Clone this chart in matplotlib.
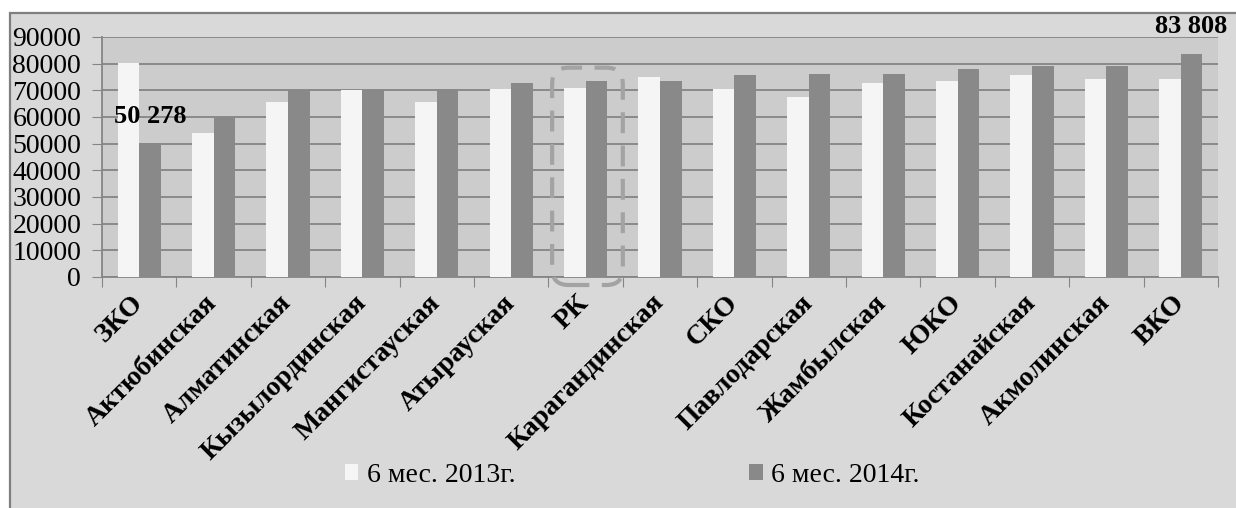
import numpy as np
import matplotlib
matplotlib.use("Agg")
import matplotlib.pyplot as plt
from matplotlib.patches import Rectangle, FancyBboxPatch, Patch

plt.rcParams['font.family'] = ['Liberation Serif', 'DejaVu Serif']

# регионы и значения
regions = ['ЗКО', 'Актюбинская', 'Алматинская', 'Кызылординская', 'Мангистауская',
           'Атырауская', 'РК', 'Карагандинская', 'СКО', 'Павлодарская',
           'Жамбылская', 'ЮКО', 'Костанайская', 'Акмолинская', 'ВКО']
val_2013 = [80100, 54100, 65500, 70000, 65500, 70400, 70900, 74900, 70400, 67500,
            72900, 73400, 75800, 74400, 74400]
val_2014 = [50278, 60000, 70000, 70000, 70400, 72900, 73400, 73400, 75800, 76200,
            76300, 77900, 79200, 79200, 83808]
series_names = ['6 мес. 2013г.', '6 мес. 2014г.']
labelled = {0: '50 278', 14: '83 808'}   # подписи над столбцами 2014
highlight = 'РК'

c_fig = '#d9d9d9'
c_plot = '#cccccc'
c_light = '#f5f5f5'
c_dark = '#898989'
c_grid = '#858585'

fig = plt.figure(figsize=(12.36, 5.08), dpi=100, facecolor='white')
fig.patches.append(Rectangle((10 / 1236, -0.01), 1.01, 1 - 13 / 508 + 0.01,
                             transform=fig.transFigure, facecolor=c_fig,
                             edgecolor='#7f7f7f', linewidth=1.6, zorder=-10))

ax = fig.add_axes([102 / 1236, 1 - 277 / 508, (1218 - 102) / 1236, 240 / 508])
ax.set_facecolor(c_plot)

n = len(regions)
x = np.arange(n) + 0.5
w = 0.29
ax.bar(x - w / 2, val_2013, w, color=c_light, zorder=3, label=series_names[0])
ax.bar(x + w / 2, val_2014, w, color=c_dark, zorder=3, label=series_names[1])

ax.set_xlim(0, n)
ax.set_ylim(0, 90000)
ax.set_yticks(np.arange(0, 90001, 10000))
ax.yaxis.grid(True, color=c_grid, linewidth=1.3, zorder=1)
ax.tick_params(axis='y', length=7, color=c_grid, labelsize=20, pad=8)

ax.set_xticks(np.arange(n + 1))
ax.set_xticklabels([])
ax.tick_params(axis='x', which='major', length=7, color=c_grid)
ax.set_xticks(x, minor=True)
ax.set_xticklabels(regions, minor=True, rotation=45, ha='right', va='center',
                   rotation_mode='anchor', fontsize=20, fontweight='bold')
ax.tick_params(axis='x', which='minor', length=0, pad=16)

for s in ['top', 'right']:
    ax.spines[s].set_visible(False)
for s in ['left', 'bottom']:
    ax.spines[s].set_color(c_grid)
    ax.spines[s].set_linewidth(1.3)

for i, txt in labelled.items():
    ax.annotate(txt, (x[i] + w / 2, val_2014[i]), xytext=(0, 11),
                textcoords='offset points', ha='center', va='bottom',
                fontsize=19, fontweight='bold', zorder=5)

# пунктирная рамка вокруг РК
fig.canvas.draw()
bb = ax.get_window_extent()
aspect = (90000 / bb.height) / (n / bb.width)
k = regions.index(highlight)
box = FancyBboxPatch((k + 0.05, -3000), 0.95, 81500,
                     boxstyle='round,pad=0,rounding_size=0.22',
                     mutation_aspect=aspect, fill=False, edgecolor='#a3a3a3',
                     linewidth=3, linestyle=(0, (5, 3)), clip_on=False, zorder=4)
ax.add_patch(box)

handles = [Patch(facecolor=c_light), Patch(facecolor=c_dark)]
fig.legend(handles, series_names, loc='center', bbox_to_anchor=(632 / 1236, 1 - 475 / 508),
           ncol=2, frameon=False, fontsize=20, handlelength=0.5, handleheight=0.5,
           handletextpad=0.3, columnspacing=8.4)

fig.savefig('out.png', dpi=100, facecolor=fig.get_facecolor())
